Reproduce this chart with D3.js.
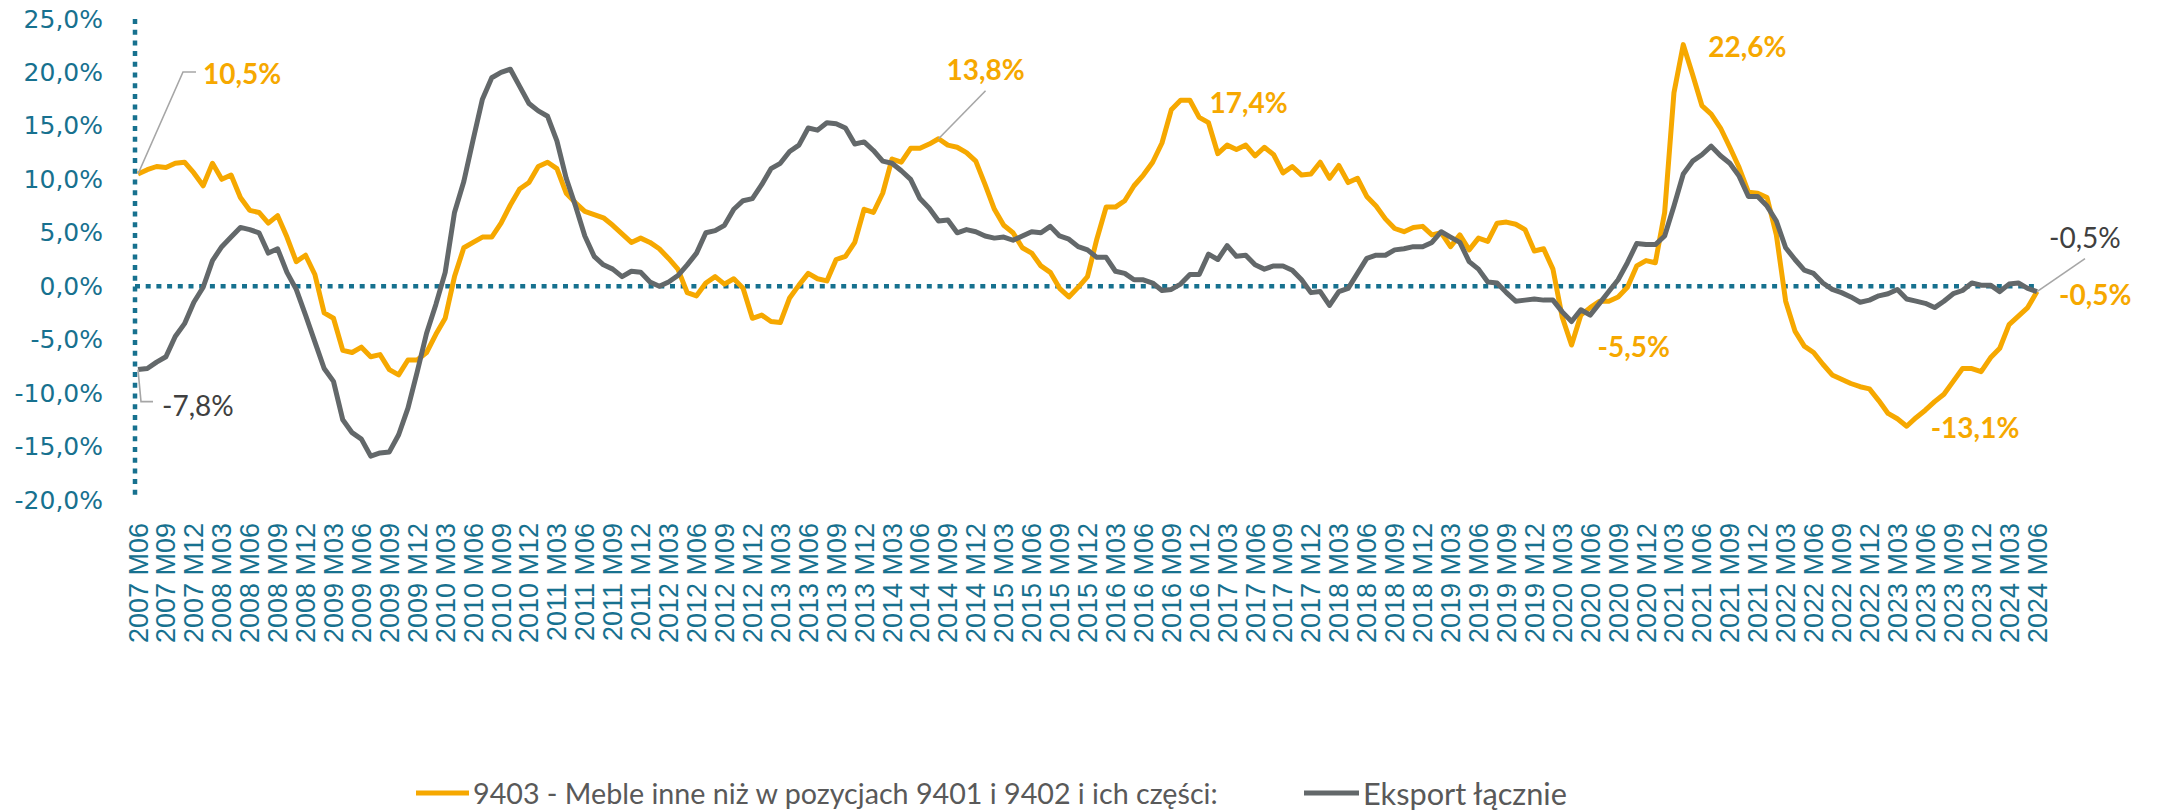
<!DOCTYPE html>
<html>
<head>
<meta charset="utf-8">
<script src="https://cdn.jsdelivr.net/npm/d3@7"></script>
<style>
  body { margin: 0; background: #fff; }
  svg { display: block; }
</style>
</head>
<body>
<div id="area"></div>
<script>
// first month of the series
var startYear = 2007,
    startMonth = 6;

// 9403 - furniture, y/y change in %
var furniture = [
  10.5, 10.9, 11.2, 11.1, 11.5, 11.6, 10.6, 9.4, 11.5, 10.0,
  10.4, 8.3, 7.1, 6.9, 5.9, 6.6, 4.6, 2.3, 2.9, 1.1,
  -2.5, -3.0, -6.0, -6.2, -5.7, -6.6, -6.4, -7.8, -8.3, -6.9,
  -6.9, -6.2, -4.5, -3.0, 0.9, 3.6, 4.1, 4.6, 4.6, 5.9,
  7.6, 9.1, 9.7, 11.2, 11.6, 11.0, 8.7, 7.8, 7.0, 6.7,
  6.4, 5.7, 4.9, 4.1, 4.5, 4.1, 3.5, 2.6, 1.6, -0.6,
  -0.9, 0.3, 0.9, 0.2, 0.7, -0.2, -3.0, -2.7, -3.3, -3.4,
  -1.1, 0.1, 1.2, 0.7, 0.5, 2.5, 2.8, 4.1, 7.2, 6.9,
  8.7, 11.9, 11.6, 12.9, 12.9, 13.3, 13.8, 13.2, 13.0, 12.5,
  11.7, 9.5, 7.2, 5.7, 5.0, 3.6, 3.1, 1.9, 1.3, -0.2,
  -1.0, -0.1, 0.9, 4.4, 7.4, 7.4, 8.0, 9.4, 10.4, 11.6,
  13.4, 16.5, 17.4, 17.4, 15.8, 15.3, 12.4, 13.2, 12.8, 13.2,
  12.2, 13.0, 12.3, 10.6, 11.2, 10.4, 10.5, 11.6, 10.1, 11.3,
  9.7, 10.1, 8.4, 7.5, 6.3, 5.4, 5.1, 5.5, 5.6, 4.8,
  5.0, 3.7, 4.8, 3.4, 4.5, 4.2, 5.9, 6.0, 5.8, 5.3,
  3.3, 3.5, 1.6, -2.9, -5.5, -2.7, -2.0, -1.4, -1.4, -1.0,
  -0.1, 1.9, 2.4, 2.2, 6.9, 18.1, 22.6, 19.8, 16.9, 16.1,
  14.8, 13.0, 11.1, 8.8, 8.7, 8.3, 4.8, -1.4, -4.2, -5.6,
  -6.2, -7.3, -8.3, -8.7, -9.1, -9.4, -9.6, -10.7, -11.9, -12.4,
  -13.1, -12.3, -11.6, -10.8, -10.1, -8.9, -7.7, -7.7, -8.0, -6.7,
  -5.8, -3.6, -2.8, -2.0, -0.5
];

// total export, y/y change in %
var totalExport = [
  -7.8, -7.7, -7.1, -6.6, -4.7, -3.5, -1.5, -0.1, 2.4, 3.7,
  4.6, 5.5, 5.3, 5.0, 3.1, 3.5, 1.3, -0.3, -2.7, -5.2,
  -7.7, -8.9, -12.5, -13.7, -14.3, -15.9, -15.6, -15.5, -13.9, -11.4,
  -8.0, -4.4, -1.7, 1.3, 6.9, 9.8, 13.7, 17.5, 19.5, 20.0,
  20.3, 18.7, 17.1, 16.4, 15.9, 13.6, 10.1, 7.5, 4.7, 2.8,
  2.0, 1.6, 0.9, 1.4, 1.3, 0.4, 0.0, 0.4, 1.0, 2.0,
  3.1, 5.0, 5.2, 5.7, 7.2, 8.0, 8.2, 9.5, 11.0, 11.5,
  12.6, 13.2, 14.8, 14.6, 15.3, 15.2, 14.8, 13.3, 13.5, 12.7,
  11.7, 11.5, 10.8, 10.0, 8.2, 7.3, 6.1, 6.2, 5.0, 5.3,
  5.1, 4.7, 4.5, 4.6, 4.3, 4.7, 5.1, 5.0, 5.6, 4.7,
  4.4, 3.7, 3.4, 2.7, 2.7, 1.4, 1.2, 0.6, 0.6, 0.3,
  -0.4, -0.3, 0.2, 1.1, 1.1, 3.0, 2.5, 3.8, 2.8, 2.9,
  2.0, 1.6, 1.9, 1.9, 1.5, 0.6, -0.6, -0.5, -1.8, -0.5,
  -0.2, 1.2, 2.6, 2.9, 2.9, 3.4, 3.5, 3.7, 3.7, 4.1,
  5.1, 4.6, 4.1, 2.3, 1.6, 0.4, 0.3, -0.6, -1.4, -1.3,
  -1.2, -1.3, -1.3, -2.4, -3.3, -2.2, -2.7, -1.6, -0.5, 0.6,
  2.2, 4.0, 3.9, 3.9, 4.7, 7.5, 10.5, 11.7, 12.3, 13.1,
  12.2, 11.5, 10.3, 8.4, 8.4, 7.5, 6.1, 3.6, 2.5, 1.5,
  1.2, 0.3, -0.3, -0.6, -1.0, -1.5, -1.3, -0.9, -0.7, -0.3,
  -1.2, -1.4, -1.6, -2.0, -1.4, -0.7, -0.4, 0.3, 0.1, 0.1,
  -0.5, 0.2, 0.3, -0.2, -0.5
];

var yTicks = [-20, -15, -10, -5, 0, 5, 10, 15, 20, 25];
var seriesNames = ['9403 - Meble inne niż w pozycjach 9401 i 9402 i ich części:', 'Eksport łącznie'];

// month categories "2007 M06" ... and every third one as a tick label
var months = [];
for (var i = 0; i < furniture.length; i++) {
  var m = startMonth - 1 + i;
  var mm = (m % 12) + 1;
  months.push((startYear + Math.floor(m / 12)) + ' M' + (mm < 10 ? '0' + mm : mm));
}
var tickLabels = months.filter(function(d, i) { return i % 3 === 0; });

var width = 2162,
    height = 810;

var axis_color = '#17718f',
    orange = '#f6a800',
    grey = '#63686a',
    leader_color = '#a6a6a6',
    dark_text = '#404040',
    legend_text = '#595959';

var plLocale = d3.formatLocale({decimal: ',', thousands: ' ', grouping: [3], currency: ['', ' zł'], minus: '-'});
var fmt1 = plLocale.format('.1f');
function pct(v) { return fmt1(v) + '%'; }

var svg = d3.select('#area').append('svg')
    .attr('width', width)
    .attr('height', height)
    .style('background-color', '#fff');

var x = d3.scalePoint().domain(months).range([138, 2037]);
var y = d3.scaleLinear().domain([-20, 25]).range([500, 19]);

// y axis labels
var yAxis = d3.axisLeft(y).tickValues(yTicks).tickSize(0).tickPadding(32).tickFormat(pct);
svg.append('g')
    .attr('transform', 'translate(135,0)')
    .call(yAxis)
    .call(function(g) { g.select('.domain').remove(); })
    .selectAll('text')
    .attr('font-family', 'DejaVu Sans, Verdana, sans-serif')
    .attr('font-size', 25)
    .attr('fill', axis_color);

// x axis labels, rotated
var xAxis = d3.axisBottom(x).tickValues(tickLabels).tickSize(0).tickPadding(0);
svg.append('g')
    .attr('transform', 'translate(0,523)')
    .call(xAxis)
    .call(function(g) { g.select('.domain').remove(); })
    .selectAll('text')
    .attr('x', 0)
    .attr('y', 0)
    .attr('dy', null)
    .attr('transform', 'rotate(-90)')
    .attr('text-anchor', 'end')
    .attr('dominant-baseline', 'central')
    .attr('font-family', 'Liberation Sans, Arial, sans-serif')
    .attr('font-size', 27)
    .attr('fill', axis_color);

// dotted axis lines
svg.append('line')
    .attr('x1', 135).attr('x2', 135)
    .attr('y1', y(25)).attr('y2', y(-20))
    .attr('stroke', axis_color)
    .attr('stroke-width', 4.5)
    .attr('stroke-dasharray', '5 5.7');

svg.append('line')
    .attr('x1', 135).attr('x2', x(months[months.length - 1]))
    .attr('y1', y(0)).attr('y2', y(0))
    .attr('stroke', axis_color)
    .attr('stroke-width', 4.5)
    .attr('stroke-dasharray', '5 5.7');

// series lines (grey drawn last, as in the legend order)
var line = d3.line()
    .x(function(d, i) { return x(months[i]); })
    .y(function(d) { return y(d); });

svg.append('path')
    .datum(furniture)
    .attr('d', line)
    .attr('fill', 'none')
    .attr('stroke', orange)
    .attr('stroke-width', 5)
    .attr('stroke-linejoin', 'round');

svg.append('path')
    .datum(totalExport)
    .attr('d', line)
    .attr('fill', 'none')
    .attr('stroke', grey)
    .attr('stroke-width', 5)
    .attr('stroke-linejoin', 'round');

// data callouts: index into the series, text offset, optional leader
var callouts = [
  {data: furniture,   i: 0,   dx: 65, dy: -101, bold: true,  leader: [[45, -102], [58, -102]]},
  {data: totalExport, i: 0,   dx: 24, dy: 35,   bold: false, leader: [[3, 32], [15, 32]]},
  {data: furniture,   i: 86,  dx: 8,  dy: -70,  bold: true,  leader: [[47, -48]]},
  {data: furniture,   i: 112, dx: 29, dy: 2,    bold: true},
  {data: furniture,   i: 166, dx: 25, dy: 1,    bold: true},
  {data: furniture,   i: 154, dx: 26, dy: 1,    bold: true},
  {data: furniture,   i: 190, dx: 24, dy: 1,    bold: true},
  {data: furniture,   i: 204, dx: 22, dy: 2,    bold: true},
  {data: totalExport, i: 204, dx: 12, dy: -55,  bold: false, leader: [[48, -33]]}
];

callouts.forEach(function(c) {
  var px = x(months[c.i]),
      py = y(c.data[c.i]);
  if (c.leader) {
    var pts = [[px, py]].concat(c.leader.map(function(p) { return [px + p[0], py + p[1]]; }));
    svg.append('path')
        .attr('d', d3.line()(pts))
        .attr('fill', 'none')
        .attr('stroke', leader_color)
        .attr('stroke-width', 1.6);
  }
  svg.append('text')
      .text(pct(c.data[c.i]))
      .attr('x', px + c.dx)
      .attr('y', py + c.dy)
      .attr('dominant-baseline', 'central')
      .attr('font-family', 'Lato, sans-serif')
      .attr('font-size', 28)
      .attr('font-weight', c.bold ? 'bold' : 'normal')
      .attr('fill', c.bold ? orange : dark_text);
});

// legend
var legendY = 793;
var legendItems = [
  {name: seriesNames[0], color: orange, x1: 416, x2: 469, tx: 473, tw: 745},
  {name: seriesNames[1], color: grey,   x1: 1304, x2: 1359, tx: 1363, tw: 204}
];

legendItems.forEach(function(d) {
  svg.append('line')
      .attr('x1', d.x1).attr('x2', d.x2)
      .attr('y1', legendY).attr('y2', legendY)
      .attr('stroke', d.color)
      .attr('stroke-width', 5);
  var t = svg.append('text')
      .text(d.name)
      .attr('x', d.tx)
      .attr('y', legendY)
      .attr('dominant-baseline', 'central')
      .attr('font-family', 'Lato, sans-serif')
      .attr('font-size', 27)
      .attr('fill', legend_text);
  // scale font so the text spans the same width as in the original
  var w = t.node().getComputedTextLength();
  if (w > 0) t.attr('font-size', (27 * d.tw / w).toFixed(2));
});
</script>
</body>
</html>
